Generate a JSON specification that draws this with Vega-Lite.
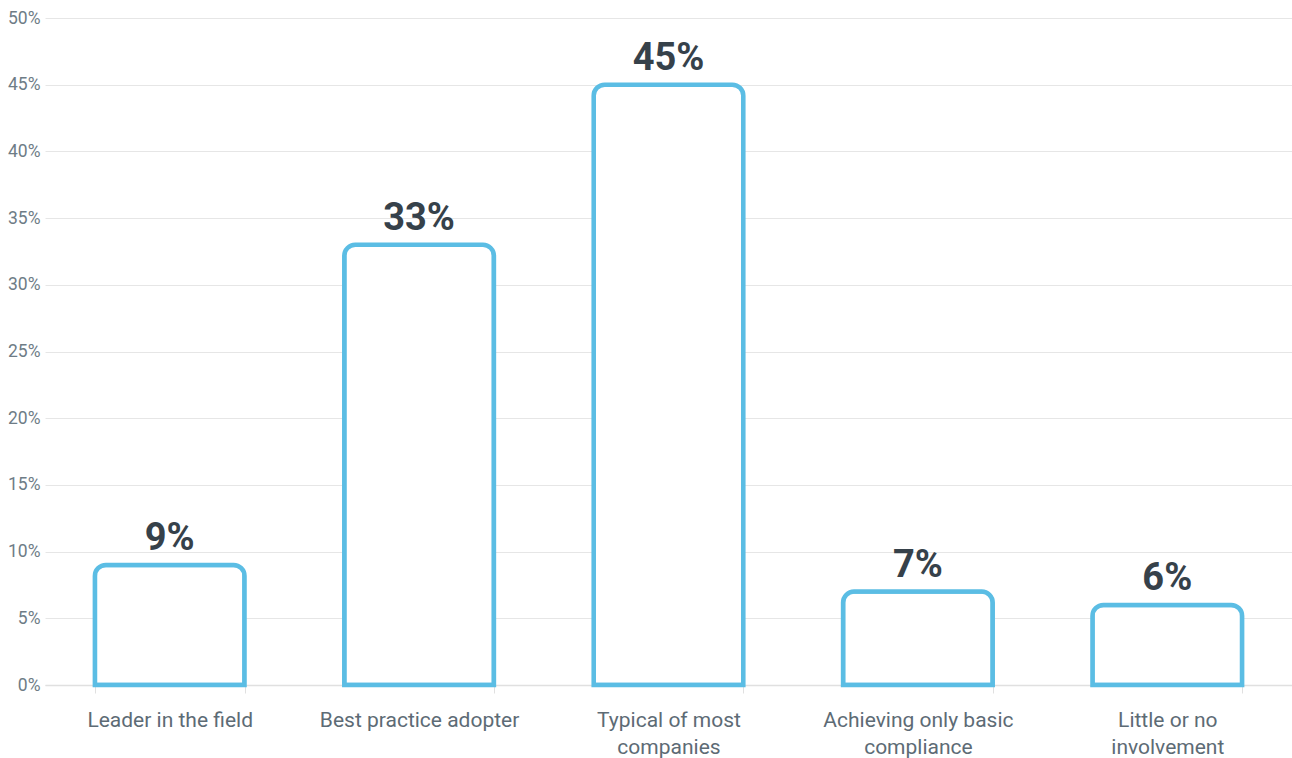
{
  "$schema": "https://vega.github.io/schema/vega-lite/v6.json",
  "autosize": "none",
  "width": 1247,
  "height": 667,
  "padding": {"left": 45, "top": 18, "right": 0, "bottom": 73},
  "background": "white",
  "config": {"view": {"stroke": null}, "font": "Roboto"},
  "data": {
    "values": [
      {"category": "Leader in the field", "value": 9},
      {"category": "Best practice adopter", "value": 33},
      {"category": "Typical of most|companies", "value": 45},
      {"category": "Achieving only basic|compliance", "value": 7},
      {"category": "Little or no|involvement", "value": 6}
    ]
  },
  "encoding": {
    "x": {
      "field": "category",
      "type": "nominal",
      "sort": null,
      "scale": {"paddingInner": 0.4, "paddingOuter": 0.2},
      "axis": {
        "title": null,
        "labelAngle": 0,
        "labelExpr": "split(datum.label, '|')",
        "labelFont": "Roboto",
        "labelFontSize": 21,
        "labelLimit": 0,
        "labelColor": "#5d6b75",
        "labelLineHeight": 27,
        "labelPadding": 16,
        "tickBand": "extent",
        "tickSize": 8,
        "tickColor": "#e0e0e0",
        "domainColor": "#e0e0e0",
        "domainWidth": 1.5,
        "grid": false
      }
    },
    "y": {
      "field": "value",
      "type": "quantitative",
      "scale": {"domain": [0, 50], "nice": false},
      "axis": {
        "title": null,
        "values": [0, 5, 10, 15, 20, 25, 30, 35, 40, 45, 50],
        "labelExpr": "datum.value + '%'",
        "labelFont": "Roboto",
        "labelFontSize": 17.5,
        "labelColor": "#6e7c86",
        "labelPadding": 5,
        "domain": false,
        "ticks": false,
        "grid": true,
        "gridColor": "#e6e6e6",
        "gridWidth": 1
      }
    }
  },
  "layer": [
    {
      "mark": {
        "type": "bar",
        "fill": "white",
        "stroke": "#5bbde4",
        "strokeWidth": 4.5,
        "cornerRadiusTopLeft": 11,
        "cornerRadiusTopRight": 11
      }
    },
    {
      "mark": {
        "type": "text",
        "font": "Roboto",
        "fontSize": 38,
        "fontWeight": "bold",
        "color": "#36414a",
        "baseline": "alphabetic",
        "dy": -15,
        "text": {"expr": "datum.value + '%'"}
      }
    }
  ]
}
